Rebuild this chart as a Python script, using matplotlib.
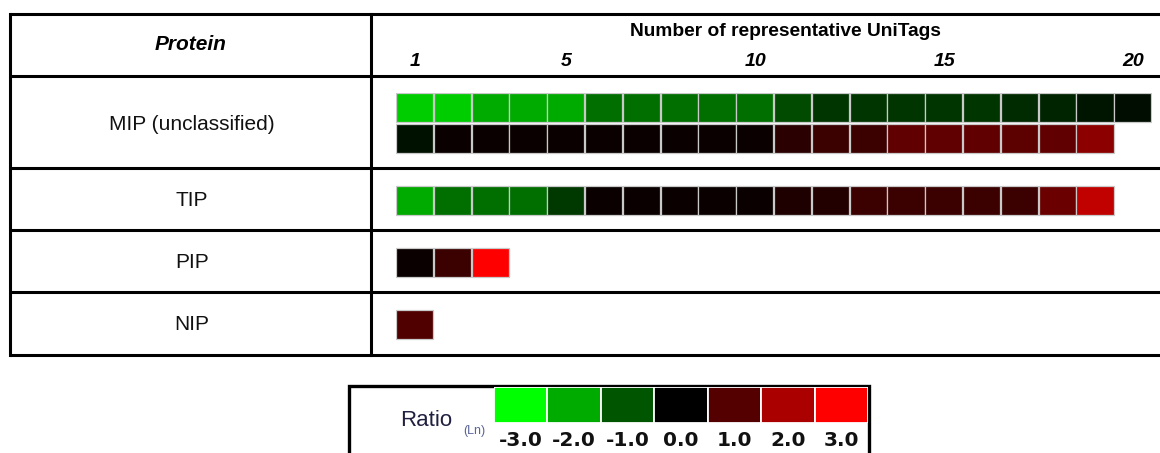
import numpy as np
import matplotlib
matplotlib.use("Agg")
import matplotlib.pyplot as plt
from matplotlib.colors import LinearSegmentedColormap, Normalize
from matplotlib.transforms import blended_transform_factory

# Log ratio (Ln) per UniTag, one list per heat-map row
mip_upper = [-2.4, -2.4, -2.0, -2.0, -2.0, -1.3, -1.3, -1.3, -1.3, -1.3,
             -0.88, -0.62, -0.62, -0.62, -0.62, -0.62, -0.5, -0.4, -0.25, -0.16]
mip_lower = [-0.19, 0.12, 0.12, 0.12, 0.12, 0.12, 0.12, 0.12, 0.12, 0.12,
             0.5, 0.68, 0.7, 1.13, 1.13, 1.13, 1.08, 1.13, 1.65]
tip_vals = [-2.0, -1.3, -1.3, -1.3, -0.66, 0.12, 0.12, 0.12, 0.12, 0.12,
            0.36, 0.4, 0.7, 0.7, 0.7, 0.7, 0.7, 1.25, 2.26]
pip_vals = [0.12, 0.7, 3.0]
nip_vals = [0.94]

protein_labels = ["MIP (unclassified)", "TIP", "PIP", "NIP"]
count_ticks = [1, 5, 10, 15, 20]
legend_levels = [-3.0, -2.0, -1.0, 0.0, 1.0, 2.0, 3.0]

W, H = 1160, 453
fig = plt.figure(figsize=(W / 100, H / 100), dpi=100)

cmap = LinearSegmentedColormap.from_list("green_black_red",
                                         ["#00ff00", "#000000", "#ff0000"])
norm = Normalize(-3, 3)

# ---- table frame in pixel coordinates
frame = fig.add_axes([0, 0, 1, 1])
frame.set_xlim(0, W)
frame.set_ylim(H, 0)
frame.axis("off")

lw = 2.2
for y in [14, 76, 168, 230, 292, 355]:
    frame.plot([10, W + 5], [y, y], color="black", lw=lw, solid_capstyle="butt")
frame.plot([10, 10], [14, 355], color="black", lw=lw)
frame.plot([371, 371], [14, 355], color="black", lw=lw)

arial = "Liberation Sans"
frame.text(191, 45, "Protein", ha="center", va="center", fontsize=15,
           fontweight="bold", fontstyle="italic", family=arial)
frame.text(785, 32, "Number of representative UniTags", ha="center",
           va="center", fontsize=13.8, fontweight="bold", family=arial)

label_y = [125, 200, 262, 324]
for lab, y in zip(protein_labels, label_y):
    frame.text(192, y, lab, ha="center", va="center", fontsize=15,
               family=arial, color="#111111")

# ---- heat map cells
hm = fig.add_axes([396 / W, 1 - 341 / H, 756 / W, 248 / H])
hm.set_xlim(0, 20)
hm.set_ylim(8, 0)
hm.axis("off")

rows = [(0, mip_upper), (1, mip_lower), (3, tip_vals), (5, pip_vals), (7, nip_vals)]
for r, vals in rows:
    vals = np.asarray(vals)
    x = np.arange(len(vals))
    hm.bar(x, 0.93, width=0.985, bottom=r + 0.0, align="edge",
           color=cmap(norm(vals)), edgecolor="#c9c9c9", linewidth=0.9)

tr = blended_transform_factory(hm.transData, frame.transData)
for t in count_ticks:
    frame.text(t - 0.5, 62, str(t), transform=tr, ha="center", va="center",
               fontsize=14, fontweight="bold", fontstyle="italic", family=arial)

# ---- colour key
frame.plot([349, 349, 869, 869], [H + 5, 386, 386, H + 5], color="black",
           lw=2.4, solid_joinstyle="miter")
key = fig.add_axes([494 / W, 1 - 423 / H, 374 / W, 36 / H])
key.set_xlim(0, len(legend_levels))
key.set_ylim(0, 1)
key.axis("off")
lv = np.asarray(legend_levels)
key.bar(np.arange(len(lv)), 1, width=1, align="edge", color=cmap(norm(lv)),
        edgecolor="white", linewidth=1.3)
tr_key = blended_transform_factory(key.transData, frame.transData)
for i, v in enumerate(lv):
    frame.text(i + 0.5, 441, f"{v:.1f}", transform=tr_key, ha="center",
               va="center", fontsize=14.5, fontweight="bold", family="DejaVu Sans",
               color="#111111")

frame.text(426, 421, "Ratio", ha="center", va="center", fontsize=16,
           family=arial, color="#202040")
frame.text(474, 431, "(Ln)", ha="center", va="center", fontsize=9,
           family=arial, color="#5a6496")

fig.savefig("out.png", dpi=100)
